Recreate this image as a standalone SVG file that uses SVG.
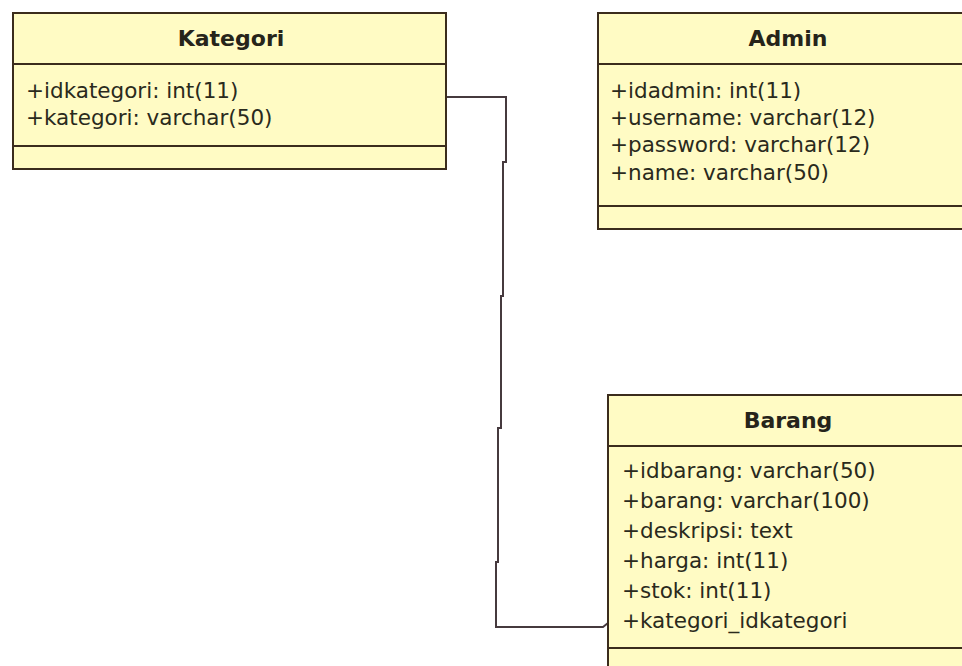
<svg xmlns="http://www.w3.org/2000/svg" width="962" height="666" viewBox="0 0 962 666">
  <style>
    .box { fill: #fffbc4; stroke: #3b2c1c; stroke-width: 2; }
    .div { stroke: #3b2c1c; stroke-width: 2; fill: none; }
    .title { font-family: "DejaVu Sans", Verdana, sans-serif; font-weight: bold; font-size: 22px; fill: #26241a; text-anchor: middle; }
    .attr { font-family: "DejaVu Sans", Verdana, sans-serif; font-size: 21.5px; fill: #2a2a1c; }
    .link { stroke: #463a3e; stroke-width: 2; fill: none; }
  </style>
  <rect width="962" height="666" fill="#ffffff"/>

  <!-- connectors -->
  <g id="connectors">
    <polyline class="link" points="446,97 506,97 506,162 503,162 503,296 501,296 501,428 498,428 498,562 496,562 496,627 603,627 608,623"/>
  </g>

  <!-- Kategori class -->
  <g id="kategori">
    <rect class="box" x="13" y="13" width="433" height="156"/>
    <line class="div" x1="13" y1="64" x2="446" y2="64"/>
    <line class="div" x1="13" y1="146" x2="446" y2="146"/>
    <text class="title" x="231" y="46">Kategori</text>
    <text class="attr" x="26" y="98">+idkategori: int(11)</text>
    <text class="attr" x="26" y="125">+kategori: varchar(50)</text>
  </g>

  <!-- Admin class -->
  <g id="admin">
    <rect class="box" x="598" y="13" width="380" height="216"/>
    <line class="div" x1="598" y1="64" x2="978" y2="64"/>
    <line class="div" x1="598" y1="206" x2="978" y2="206"/>
    <text class="title" x="788" y="46">Admin</text>
    <text class="attr" x="610" y="98">+idadmin: int(11)</text>
    <text class="attr" x="610" y="125">+username: varchar(12)</text>
    <text class="attr" x="610" y="152">+password: varchar(12)</text>
    <text class="attr" x="610" y="180">+name: varchar(50)</text>
  </g>

  <!-- Barang class -->
  <g id="barang">
    <rect class="box" x="608" y="395" width="360" height="300"/>
    <line class="div" x1="608" y1="446" x2="968" y2="446"/>
    <line class="div" x1="608" y1="648" x2="968" y2="648"/>
    <text class="title" x="788" y="428">Barang</text>
    <text class="attr" x="622" y="478">+idbarang: varchar(50)</text>
    <text class="attr" x="622" y="508">+barang: varchar(100)</text>
    <text class="attr" x="622" y="538">+deskripsi: text</text>
    <text class="attr" x="622" y="568">+harga: int(11)</text>
    <text class="attr" x="622" y="598">+stok: int(11)</text>
    <text class="attr" x="622" y="628">+kategori_idkategori</text>
  </g>
</svg>
